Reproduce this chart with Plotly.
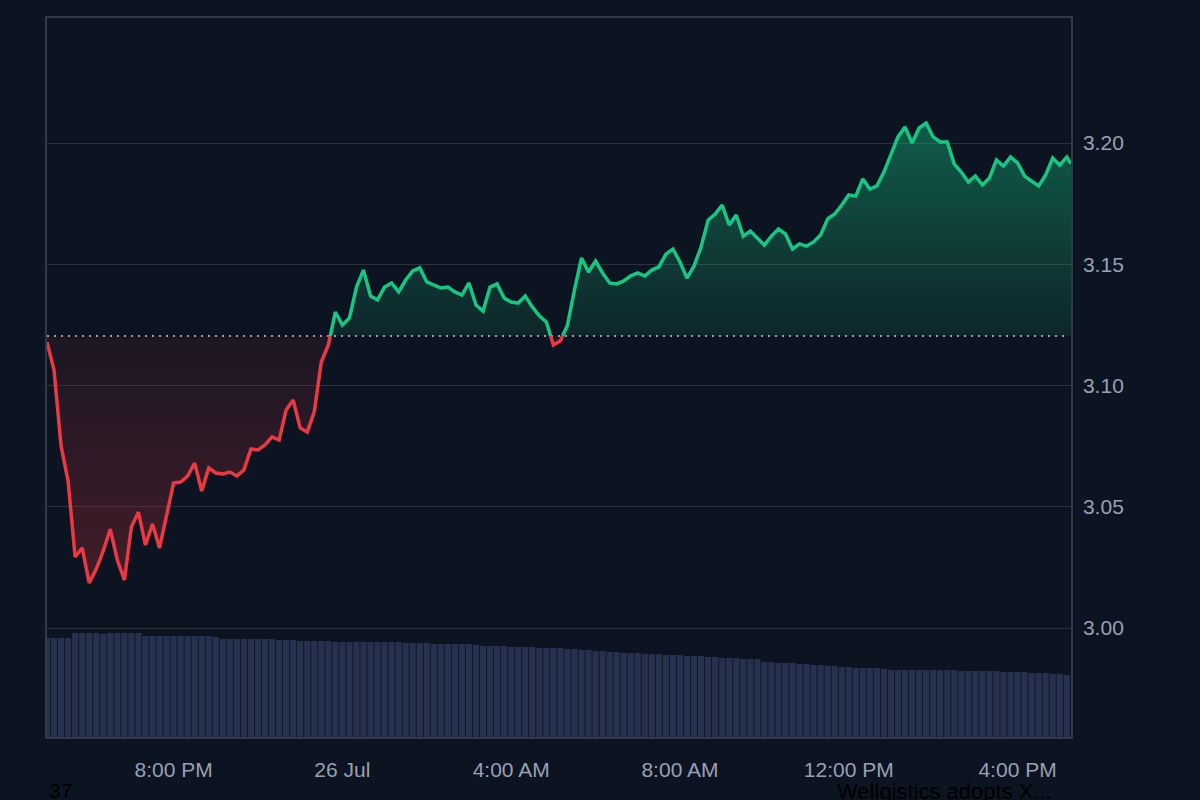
import plotly.graph_objects as go
import pandas as pd

# ---------------- data ----------------
base_price = 3.1204  # previous close (dotted reference line)

prices = [
    3.1179, 3.1064, 3.0751, 3.0606, 3.0293, 3.0330, 3.0186, 3.0243, 3.0318, 3.0408,
    3.0280, 3.0198, 3.0416, 3.0478, 3.0342, 3.0429, 3.0330, 3.0462, 3.0598, 3.0602,
    3.0627, 3.0680, 3.0565, 3.0660, 3.0639, 3.0635, 3.0643, 3.0627, 3.0652, 3.0738,
    3.0734, 3.0755, 3.0788, 3.0775, 3.0899, 3.0940, 3.0825, 3.0808, 3.0891, 3.1097,
    3.1167, 3.1303, 3.1249, 3.1278, 3.1406, 3.1476, 3.1369, 3.1353, 3.1406, 3.1423,
    3.1386, 3.1435, 3.1472, 3.1485, 3.1427, 3.1414, 3.1402, 3.1406, 3.1386, 3.1373,
    3.1423, 3.1332, 3.1307, 3.1406, 3.1419, 3.1361, 3.1344, 3.1340, 3.1369, 3.1324,
    3.1287, 3.1262, 3.1167, 3.1184, 3.1249, 3.1394, 3.1526, 3.1468, 3.1513, 3.1464,
    3.1423, 3.1419, 3.1431, 3.1452, 3.1464, 3.1452, 3.1476, 3.1489, 3.1542, 3.1563,
    3.1509, 3.1443, 3.1493, 3.1571, 3.1682, 3.1707, 3.1744, 3.1662, 3.1703, 3.1616,
    3.1637, 3.1608, 3.1579, 3.1616, 3.1645, 3.1625, 3.1563, 3.1584, 3.1575, 3.1592,
    3.1621, 3.1687, 3.1707, 3.1744, 3.1786, 3.1781, 3.1852, 3.1810, 3.1823, 3.1880,
    3.1951, 3.2025, 3.2066, 3.2000, 3.2062, 3.2082, 3.2025, 3.2004, 3.2004, 3.1913,
    3.1880, 3.1839, 3.1864, 3.1827, 3.1856, 3.1930, 3.1905, 3.1942, 3.1918, 3.1864,
    3.1843, 3.1823, 3.1868, 3.1938, 3.1909, 3.1942,
    3.1915,
]

price_times = list(pd.date_range("2025-07-25 17:00", periods=146, freq="10min")) + [
    pd.Timestamp("2025-07-26 17:16")
]

volume_times = list(pd.date_range("2025-07-25 17:00", periods=146, freq="10min"))
volumes = [
    9.9, 9.9, 9.9, 9.9,
    10.4, 10.4, 10.4, 10.4, 10.3, 10.4, 10.4, 10.4, 10.4, 10.4,
    10.1, 10.1, 10.1, 10.1, 10.1, 10.1, 10.1, 10.1, 10.1, 10.1, 10.0,
    9.8, 9.8, 9.8, 9.8, 9.8, 9.8, 9.8, 9.8, 9.7, 9.7, 9.7,
    9.6, 9.6, 9.6, 9.6, 9.6,
    9.5, 9.5, 9.5, 9.5, 9.5, 9.5, 9.5, 9.5, 9.5, 9.5,
    9.4, 9.4, 9.4, 9.4, 9.3, 9.3, 9.3, 9.3, 9.3, 9.3, 9.2,
    9.1, 9.1, 9.1, 9.1, 9.0, 9.0, 9.0, 9.0, 8.9, 8.9, 8.9, 8.9,
    8.8, 8.8, 8.7, 8.7, 8.6, 8.6, 8.5, 8.5,
    8.4, 8.4, 8.4, 8.3, 8.3, 8.3, 8.2, 8.2, 8.2, 8.1, 8.1, 8.1,
    8.0, 8.0, 7.9, 7.9, 7.9, 7.8, 7.8, 7.8,
    7.5, 7.5, 7.4, 7.4, 7.4, 7.3, 7.3, 7.2, 7.2, 7.1, 7.1, 7.0, 7.0,
    6.9, 6.9, 6.9, 6.9, 6.8,
    6.7, 6.7, 6.7, 6.7, 6.7, 6.7, 6.7, 6.7, 6.7, 6.7, 6.6, 6.6, 6.6, 6.6, 6.6, 6.6,
    6.5, 6.5, 6.5, 6.5, 6.4, 6.4, 6.4,
    6.3, 6.3, 6.2,
]

x_tick_times = ["2025-07-25 20:00", "2025-07-26 00:00", "2025-07-26 04:00",
                "2025-07-26 08:00", "2025-07-26 12:00", "2025-07-26 16:00"]
x_tick_labels = ["8:00 PM", "26 Jul", "4:00 AM", "8:00 AM", "12:00 PM", "4:00 PM"]
y_tick_vals = [3.00, 3.05, 3.10, 3.15, 3.20]

footer_left = "37"
footer_right = "Wellgistics adopts X..."

# ---------------- styling ----------------
BG = "#0d1421"
GREEN = "#16c784"
RED = "#ea3943"
GRID = "#2a303c"
AXIS_LINE = "#323846"
TICK_COLOR = "#98a0b3"
FONT = "Liberation Sans, Arial, sans-serif"

# split the series at the crossings of the reference line
xs, ys = [price_times[0]], [prices[0]]
for i in range(1, len(prices)):
    pa, pb = prices[i - 1], prices[i]
    ta, tb = price_times[i - 1], price_times[i]
    if (pa - base_price) * (pb - base_price) < 0:
        frac = (base_price - pa) / (pb - pa)
        xs.append(ta + (tb - ta) * frac)
        ys.append(base_price)
    xs.append(tb)
    ys.append(pb)

green_line = [y if y >= base_price else None for y in ys]
red_line = [y if y <= base_price else None for y in ys]
green_fill = [max(y, base_price) for y in ys]
red_fill = [min(y, base_price) for y in ys]
base_line = [base_price] * len(ys)

fig = go.Figure()

fig.add_trace(go.Scatter(x=xs, y=base_line, mode="lines", line=dict(width=0),
                         hoverinfo="skip", showlegend=False))
fig.add_trace(go.Scatter(
    x=xs, y=green_fill, mode="lines", line=dict(width=0), fill="tonexty",
    fillgradient=dict(type="vertical",
                      colorscale=[[0, "rgba(22,199,132,0.10)"], [1, "rgba(22,199,132,0.40)"]]),
    hoverinfo="skip", showlegend=False))
fig.add_trace(go.Scatter(x=xs, y=base_line, mode="lines", line=dict(width=0),
                         hoverinfo="skip", showlegend=False))
fig.add_trace(go.Scatter(
    x=xs, y=red_fill, mode="lines", line=dict(width=0), fill="tonexty",
    fillgradient=dict(type="vertical",
                      colorscale=[[0, "rgba(234,57,67,0.24)"], [1, "rgba(234,57,67,0.07)"]]),
    hoverinfo="skip", showlegend=False))

fig.add_trace(go.Bar(x=volume_times, y=volumes, yaxis="y2",
                     marker=dict(color="#26304f", line=dict(width=0)),
                     hoverinfo="skip", showlegend=False))

fig.add_trace(go.Scatter(x=xs, y=green_line, mode="lines",
                         line=dict(color=GREEN, width=3.5), connectgaps=False,
                         hoverinfo="skip", showlegend=False))
fig.add_trace(go.Scatter(x=xs, y=red_line, mode="lines",
                         line=dict(color=RED, width=3.5), connectgaps=False,
                         hoverinfo="skip", showlegend=False))

fig.add_shape(type="line", xref="paper", x0=0, x1=0.995, yref="y",
              y0=base_price, y1=base_price, layer="below",
              line=dict(color="rgba(200,205,215,0.75)", width=2, dash="2px,5px"))

fig.update_layout(
    width=1200, height=800,
    paper_bgcolor=BG, plot_bgcolor=BG,
    margin=dict(l=47, r=129, t=18, b=63),
    font=dict(family=FONT, size=21, color=TICK_COLOR),
    bargap=0.12,
    hovermode=False,
    xaxis=dict(
        range=[price_times[0], price_times[-1]],
        tickvals=x_tick_times, ticktext=x_tick_labels,
        showgrid=False, zeroline=False,
        showline=True, linecolor=AXIS_LINE, linewidth=1.5, mirror=True,
        ticks="", ticklabelstandoff=13,
        tickfont=dict(size=21, color=TICK_COLOR, family=FONT),
    ),
    yaxis=dict(
        range=[2.95505, 3.25155], side="right",
        tickvals=y_tick_vals, tickformat=".2f",
        showgrid=True, gridcolor=GRID, gridwidth=1, zeroline=False,
        showline=True, linecolor=AXIS_LINE, linewidth=1.5, mirror=True,
        ticks="", ticklabelstandoff=6,
        tickfont=dict(size=21, color=TICK_COLOR, family=FONT),
    ),
    yaxis2=dict(range=[0, 71.9], overlaying="y", visible=False),
    annotations=[
        dict(text=footer_left, xref="paper", yref="paper", x=0, y=-0.0556,
             xanchor="left", yanchor="top", showarrow=False,
             font=dict(family=FONT, size=21, color="#000000")),
        dict(text=footer_right, xref="paper", yref="paper", x=0.7695, y=-0.0556,
             xanchor="left", yanchor="top", showarrow=False,
             font=dict(family=FONT, size=22, color="#000000")),
    ],
)

fig.write_html(
    "out.html",
    config={"displayModeBar": False},
    post_script="document.body.style.margin='0';document.body.style.background='#0d1421';",
)
